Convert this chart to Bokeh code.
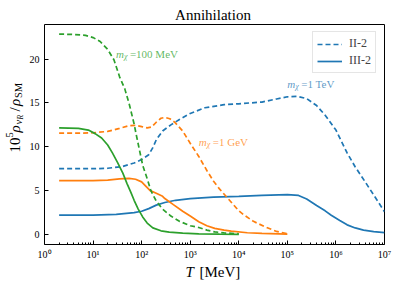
import math
from bokeh.plotting import figure
from bokeh.layouts import column, row
from bokeh.models import Range1d, FixedTicker, CustomJSTickFormatter, Label, Legend, LegendItem
from bokeh.embed import file_html
from bokeh.resources import INLINE

# ---------------- data ----------------
# m_chi = 100 MeV (green)
T_g_II = [2, 4, 7, 10, 14, 20, 27, 35, 45, 56, 70, 80, 105, 133, 155, 200, 270, 400, 600, 1000, 1500, 2200, 3200, 5000, 10000]
V_g_II = [22.85, 22.8, 22.7, 22.45, 22.0, 21.1, 19.9, 18.0, 16.6, 14.8, 12.6, 11.0, 7.9, 6.2, 5.0, 3.8, 2.9, 2.1, 1.5, 1.0, 0.8, 0.5, 0.3, 0.18, 0.08]
T_g_III = [2, 5, 8, 11, 15, 20, 25, 32, 41, 50, 60, 70, 85, 105, 130, 170, 250, 370, 700, 1500, 4000, 10000]
V_g_III = [12.15, 12.1, 11.9, 11.5, 11.0, 10.2, 9.3, 8.2, 7.0, 5.8, 4.8, 3.9, 2.9, 2.0, 1.3, 0.75, 0.42, 0.28, 0.15, 0.08, 0.04, 0.02]

# m_chi = 1 GeV (orange)
T_o_II = [2, 5, 10, 20, 35, 55, 75, 100, 130, 160, 200, 250, 300, 380, 480, 700, 1000, 1500, 2200, 3000, 4000, 6000, 10000, 13000, 20000, 34000, 60000, 100000]
V_o_II = [11.55, 11.55, 11.6, 11.75, 12.1, 12.4, 12.45, 12.3, 12.15, 12.25, 12.8, 13.25, 13.35, 13.2, 12.8, 11.8, 10.4, 8.9, 7.3, 6.1, 5.2, 4.1, 2.7, 2.2, 1.5, 0.9, 0.35, 0.1]
T_o_III = [2, 10, 20, 35, 55, 75, 100, 120, 150, 200, 270, 300, 450, 700, 1000, 1500, 2200, 3200, 5000, 7000, 15000, 30000, 100000]
V_o_III = [6.15, 6.15, 6.2, 6.35, 6.4, 6.3, 6.0, 5.55, 5.0, 4.7, 4.35, 4.1, 3.4, 2.65, 2.1, 1.45, 1.0, 0.7, 0.5, 0.38, 0.2, 0.12, 0.05]

# m_chi = 1 TeV (blue)
T_b_II = [2, 10, 20, 40, 70, 100, 140, 170, 200, 270, 400, 600, 1000, 2000, 5000, 10000, 30000, 60000, 100000, 160000, 250000, 400000, 600000, 1000000, 1700000, 2500000, 4000000, 6000000, 10000000]
V_b_II = [7.5, 7.5, 7.55, 7.75, 8.15, 8.55, 9.1, 9.9, 10.8, 11.8, 12.5, 13.1, 13.8, 14.45, 14.8, 14.9, 15.1, 15.45, 15.7, 15.75, 15.5, 14.7, 13.6, 11.9, 9.3, 7.7, 6.0, 4.5, 2.6]
T_b_III = [2, 10, 30, 70, 100, 140, 200, 300, 500, 1000, 3000, 10000, 30000, 100000, 170000, 250000, 400000, 600000, 800000, 1200000, 1700000, 2500000, 3700000, 6000000, 10000000]
V_b_III = [2.2, 2.22, 2.3, 2.5, 2.65, 2.95, 3.35, 3.65, 3.9, 4.1, 4.25, 4.35, 4.45, 4.55, 4.45, 4.05, 3.3, 2.7, 2.2, 1.6, 1.1, 0.75, 0.5, 0.32, 0.22]

X_MAJOR = [1, 10, 100, 1000, 10000, 100000, 1000000, 10000000]
X_MINOR = [m * 10 ** k for k in range(7) for m in range(2, 10)]
Y_MAJOR = [0, 5, 10, 15, 20]

TITLE = "Annihilation"
LEGEND_LABELS = ["II-2", "III-2"]
ANNOT = [("=100 MeV", 29.5, 20.55), ("=1 GeV", 1500, 10.6), ("=1 TeV", 100000, 17.15)]

C_BLUE, C_ORANGE, C_GREEN = "#1f77b4", "#ff7f0e", "#2ca02c"
SERIF = "Liberation Serif"
DASH = "5 3"
LW = 1.7


def blank(w, h):
    f = figure(width=w, height=h, x_range=Range1d(0, 1), y_range=Range1d(0, 1),
               x_axis_type=None, y_axis_type=None, output_backend="svg",
               toolbar_location=None, min_border=0)
    f.outline_line_color = None
    f.xgrid.visible = False
    f.ygrid.visible = False
    f.background_fill_color = "white"
    f.border_fill_color = "white"
    return f


def lab(fig, x, y, text, size, style="normal", color="black", alpha=1.0, units="screen",
        angle=0.0, align="left", xo=0, yo=0):
    fig.add_layout(Label(x=x, y=y, x_units=units, y_units=units, text=text,
                         text_font=SERIF, text_font_size=f"{size}px", text_font_style=style,
                         text_color=color, text_alpha=alpha, angle=angle,
                         text_align=align, text_baseline="alphabetic",
                         x_offset=xo, y_offset=yo))


# ---------------- main plot ----------------
p = figure(width=372, height=239, x_axis_type="log",
           x_range=Range1d(1, 1e7), y_range=Range1d(-1.14, 23.94),
           output_backend="svg", toolbar_location=None,
           min_border_left=15, min_border_right=14, min_border_top=1, min_border_bottom=16)
p.title.visible = False
p.xgrid.visible = False
p.ygrid.visible = False
p.outline_line_color = "black"
p.outline_line_alpha = 1
p.outline_line_width = 1
p.background_fill_color = "white"
p.border_fill_color = "white"

r_b2 = p.line(T_b_II, V_b_II, color=C_BLUE, line_width=LW, line_dash=DASH)
r_b3 = p.line(T_b_III, V_b_III, color=C_BLUE, line_width=LW)
p.line(T_o_II, V_o_II, color=C_ORANGE, line_width=LW, line_dash=DASH)
p.line(T_o_III, V_o_III, color=C_ORANGE, line_width=LW)
p.line(T_g_II, V_g_II, color=C_GREEN, line_width=LW, line_dash=DASH)
p.line(T_g_III, V_g_III, color=C_GREEN, line_width=LW)

for ax in (p.xaxis[0], p.yaxis[0]):
    ax.axis_line_color = None
    ax.major_tick_in = 4
    ax.major_tick_out = 0
    ax.minor_tick_in = 2
    ax.minor_tick_out = 0
    ax.major_tick_line_color = "black"
    ax.minor_tick_line_color = "black"
    ax.major_label_text_font = SERIF
    ax.major_label_text_font_size = "10px"
    ax.major_label_text_color = "black"

p.xaxis.ticker = FixedTicker(ticks=X_MAJOR, minor_ticks=X_MINOR)
p.xaxis.formatter = CustomJSTickFormatter(code="""
const sup = {'0':'\u2070','1':'\u00b9','2':'\u00b2','3':'\u00b3','4':'\u2074','5':'\u2075','6':'\u2076','7':'\u2077','8':'\u2078','9':'\u2079','-':'\u207b'};
const e = Math.round(Math.log10(tick));
return '10' + String(e).split('').map(c => sup[c]).join('');
""")
p.xaxis.major_label_standoff = 4
p.yaxis.ticker = FixedTicker(ticks=Y_MAJOR, minor_ticks=[])
p.yaxis.major_label_standoff = 5

# annotations m_chi = ...
for (txt, tx, ty), col in zip(ANNOT, [C_GREEN, C_ORANGE, C_BLUE]):
    lab(p, tx, ty, "m", 11, style="italic", color=col, alpha=0.75, units="data")
    lab(p, tx, ty, "\u03c7", 8, style="italic", color=col, alpha=0.75, units="data", xo=8, yo=-2.5)
    lab(p, tx, ty, txt, 11, color=col, alpha=0.75, units="data", xo=14)

legend = Legend(items=[LegendItem(label=LEGEND_LABELS[0], renderers=[r_b2]),
                       LegendItem(label=LEGEND_LABELS[1], renderers=[r_b3])],
                location=(268, 171))
legend.label_text_font = SERIF
legend.label_text_font_size = "12px"
legend.glyph_width = 25
legend.glyph_height = 12
legend.label_height = 12
legend.label_standoff = 7
legend.spacing = 2
legend.padding = 4
legend.margin = 0
legend.border_line_color = "#cccccc"
legend.background_fill_alpha = 0.8
p.add_layout(legend)

# ---------------- title ----------------
ft = blank(398, 23)
lab(ft, 212.5, 9, TITLE, 15, align="center")

# ---------------- y label: 10^5 rho_{nu_R} / rho_SM ----------------
fy = blank(26, 239)
A = math.pi / 2
lab(fy, 14.5, 92, "10", 15, angle=A)
lab(fy, 9, 107, "5", 10.5, angle=A)
lab(fy, 14.5, 112, "\u03c1", 15, style="italic", angle=A)
lab(fy, 17.5, 120, "\u03bd", 10.5, style="italic", angle=A)
lab(fy, 19.5, 125, "R", 7.5, style="italic", angle=A)
lab(fy, 14.5, 133, "/", 15, angle=A)
lab(fy, 14.5, 138.5, "\u03c1", 15, style="italic", angle=A)
lab(fy, 17.5, 146.5, "SM", 10.5, angle=A)

# ---------------- x label: T [MeV] ----------------
fx = blank(398, 24)
lab(fx, 185, 15, "T", 15, style="italic")
lab(fx, 199, 15, "[MeV]", 15)

layout = column(ft, row(fy, p), fx)
open("out.html", "w").write(file_html(layout, INLINE))
